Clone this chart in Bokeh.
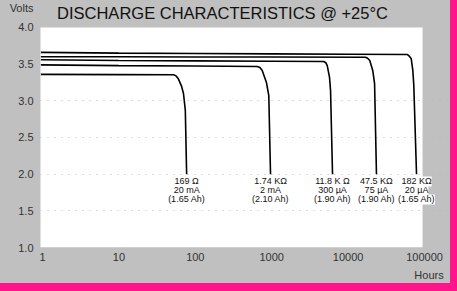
from bokeh.plotting import figure
from bokeh.models import Label, FixedTicker, Range1d, BoxAnnotation, LogAxis
from bokeh.embed import file_html
from bokeh.resources import INLINE

# ---- data ----
hours_169 = [0.95, 10, 52, 56, 60, 66, 70, 74, 77]
volts_169 = [3.36, 3.357, 3.355, 3.34, 3.30, 3.20, 3.10, 2.87, 2.0]

hours_1k74 = [0.95, 10, 100, 645, 700, 751, 853, 916, 965]
volts_1k74 = [3.49, 3.48, 3.475, 3.468, 3.455, 3.414, 3.25, 3.07, 2.0]

hours_11k8 = [0.95, 10, 100, 1000, 4800, 5100, 5330, 5710, 5890, 6250]
volts_11k8 = [3.56, 3.55, 3.545, 3.54, 3.536, 3.52, 3.48, 3.32, 3.14, 2.0]

hours_47k5 = [0.95, 10, 100, 1000, 16900, 18000, 19200, 21000, 22200, 23500]
volts_47k5 = [3.60, 3.60, 3.598, 3.597, 3.595, 3.58, 3.55, 3.414, 3.236, 2.0]

hours_182k = [0.95, 10, 100, 1000, 10000, 59400, 63000, 67000, 70300, 72400, 78600]
volts_182k = [3.66, 3.65, 3.645, 3.64, 3.635, 3.632, 3.61, 3.573, 3.414, 3.21, 2.0]

label_hours = [77, 965, 6250, 23500, 78600]
label_load = ["169 \u03a9", "1.74 K\u03a9", "11.8 K \u03a9", "47.5 K\u03a9", "182 K\u03a9"]
label_current = ["20 mA", "2 mA", "300 \u00b5A", "75 \u00b5A", "20 \u00b5A"]
label_capacity = ["(1.65 Ah)", "(2.10 Ah)", "(1.90 Ah)", "(1.90 Ah)", "(1.65 Ah)"]
label_rows = [1.90, 1.778, 1.655]

x_ticks = [1, 10, 100, 1000, 10000, 100000]
y_ticks = [1.0, 1.5, 2.0, 2.5, 3.0, 3.5, 4.0]
grid_ticks = [1.5, 2.0, 2.5, 3.0]

title_text = "DISCHARGE CHARACTERISTICS @ +25\u00b0C"
y_unit, y_unit_pos = "Volts", 4.26
x_unit, x_unit_pos = "Hours", 114500

# chart area (white) limits and the surrounding grey card
area_hours = (0.9, 94200)
area_volts = (1.0, 4.0)
card_hours = (10 ** -0.0262, 10 ** 5.340)
card_volts = (1.0, 4.368)
title_pos = (227, 4.196)

FONT = "Liberation Sans"
GREY = "#c0c0c0"
MAGENTA = "#ff148c"
W, H = 450, 283

p = figure(width=W, height=H, x_axis_type="log",
           x_range=Range1d(*card_hours), y_range=Range1d(*card_volts),
           output_backend="svg", toolbar_location=None,
           min_border_left=40, min_border_right=0, min_border_top=0, min_border_bottom=36)
p.background_fill_color = GREY
p.border_fill_color = GREY
p.outline_line_color = None

p.add_layout(BoxAnnotation(left=area_hours[0], right=area_hours[1],
                           bottom=area_volts[0], top=area_volts[1],
                           fill_color="white", fill_alpha=1.0, line_color=None, level="image"))

for hx, vy in [(hours_169, volts_169), (hours_1k74, volts_1k74), (hours_11k8, volts_11k8),
               (hours_47k5, volts_47k5), (hours_182k, volts_182k)]:
    p.line(hx, vy, line_color="black", line_width=1.6)

p.xaxis.ticker = FixedTicker(ticks=x_ticks)
p.yaxis.ticker = FixedTicker(ticks=y_ticks + [y_unit_pos])
p.xaxis.major_label_overrides = {t: str(t) for t in x_ticks}
ov = {t: f"{t:.1f}" for t in y_ticks}
ov[y_unit_pos] = y_unit
p.yaxis.major_label_overrides = ov

x_unit_axis = LogAxis(ticker=FixedTicker(ticks=[x_unit_pos]),
                      major_label_overrides={x_unit_pos: x_unit})
p.add_layout(x_unit_axis, "below")

for ax in (p.xaxis, p.yaxis):
    ax.axis_line_color = None
    ax.major_tick_line_color = None
    ax.minor_tick_line_color = None
    ax.major_tick_out = 0
    ax.major_tick_in = 0
    ax.minor_tick_out = 0
    ax.minor_tick_in = 0
    ax.major_label_text_font = FONT
    ax.major_label_text_font_size = "11px"
    ax.major_label_text_color = "#333333"
p.xaxis[0].major_label_standoff = 5
x_unit_axis.major_label_standoff = 5
p.yaxis.major_label_standoff = 7

p.ygrid.ticker = FixedTicker(ticks=grid_ticks)
p.ygrid.grid_line_color = "#b8b8b8"
p.ygrid.grid_line_dash = "1 6"
p.xgrid.visible = False

for hx, a, b, c in zip(label_hours, label_load, label_current, label_capacity):
    for txt, yv in zip([a, b, c], label_rows):
        p.add_layout(Label(x=hx, y=yv, text=txt, text_align="center", text_baseline="middle",
                           text_font=FONT, text_font_size="9px", text_color="#111111",
                           background_fill_color="white"))

p.add_layout(Label(x=title_pos[0], y=title_pos[1], text=title_text,
                   text_align="center", text_baseline="middle", text_font=FONT,
                   text_font_size="16.5px", text_color="#111111"))

html = file_html(p, INLINE)
css = ("<style>html,body{margin:0;padding:0;}"
       "body{background:linear-gradient(%s,%s) 0 0/%dpx %dpx no-repeat,%s;}</style>"
       % (GREY, GREY, W, H, MAGENTA))
html = html.replace("<head>", "<head>" + css, 1)
open("out.html", "w").write(html)
